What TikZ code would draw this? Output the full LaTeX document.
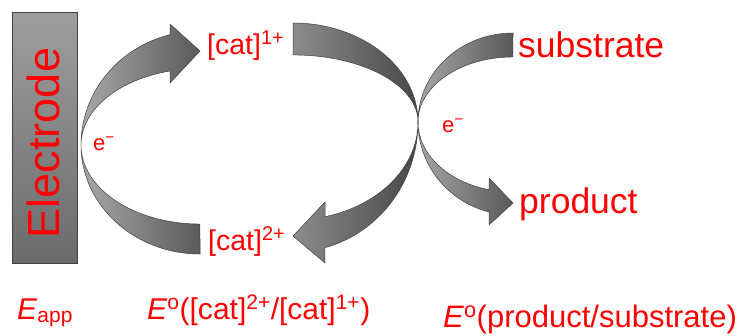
\documentclass[tikz,border=0pt]{standalone}
\usepackage{fontspec}
\setmainfont{Liberation Sans}
\definecolor{edge}{HTML}{404040}
\definecolor{lite}{HTML}{A8A8A8}
\definecolor{dark}{HTML}{5A5A5A}
\begin{document}
\begin{tikzpicture}[x=1pt,y=-1pt,
  lbl/.style={text=red, inner sep=0pt, anchor=base west},
  fat/.style={draw=edge, line width=0.5pt, line join=round}]
\useasboundingbox (0,0) rectangle (738,335);

% electrode
\draw[draw=edge, line width=0.6pt, top color=black!38, bottom color=black!58] (12,12) rectangle (77,263);
\node[text=red, inner sep=0pt, rotate=90] (electrode) at (43.5,143) {\fontsize{45}{45}\selectfont Electrode};

% left arrow: [cat]2+ -> [cat]1+
\draw[fat, left color=lite, right color=dark]
  (200,254) arc[start angle=90, end angle=180, x radius=119, y radius=109]
  arc[start angle=180, end angle=255.4, x radius=119, y radius=114]
  -- (170,24) -- (200,51) -- (170,83) -- (170,71)
  arc[start angle=255.4, end angle=180, x radius=119, y radius=76.5]
  arc[start angle=180, end angle=90, x radius=119, y radius=79] -- cycle;

% crossing arrow: [cat]1+ -> [cat]2+
\draw[fat, left color=black!45, right color=black!72]
  (293,23) arc[start angle=270, end angle=360, x radius=125, y radius=99]
  arc[start angle=0, end angle=75.2, x radius=125, y radius=130]
  -- (325,263) -- (293,236) -- (325,202) -- (325,216.7)
  arc[start angle=75.2, end angle=0, x radius=125, y radius=98]
  arc[start angle=360, end angle=270, x radius=125, y radius=67] -- cycle;

% crossing arrow: substrate -> product
\draw[fat, left color=black!35, right color=black!65]
  (513,33) arc[start angle=270, end angle=180, x radius=95, y radius=89]
  arc[start angle=180, end angle=104.6, x radius=95, y radius=93]
  -- (489,225) -- (513,203) -- (489,178) -- (489,189.7)
  arc[start angle=104.6, end angle=180, x radius=95, y radius=70]
  arc[start angle=180, end angle=270, x radius=95, y radius=65] -- cycle;

% labels
\node[lbl] (cat1) at (207,54) {\fontsize{28.5}{28.5}\selectfont [cat]\textsuperscript{1+}};
\node[lbl] (cat2) at (208,250) {\fontsize{28.5}{28.5}\selectfont [cat]\textsuperscript{2+}};
\node[lbl] (sub) at (518,57) {\fontsize{35.5}{35.5}\selectfont substrate};
\node[lbl] (prod) at (519,213) {\fontsize{35.5}{35.5}\selectfont product};
\node[lbl] (e1) at (93,150) {\fontsize{22}{22}\selectfont e\textsuperscript{−}};
\node[lbl] (e2) at (442,132) {\fontsize{22}{22}\selectfont e\textsuperscript{−}};

\node[lbl] (eapp) at (17,319) {\fontsize{30}{30}\selectfont \textit{E}\textsubscript{app}};
\node[lbl] (ecat) at (147,319) {\fontsize{30}{30}\selectfont \textit{E}\textsuperscript{o}([cat]\textsuperscript{2+}/[cat]\textsuperscript{1+})};
\node[lbl] (eprod) at (443,327) {\fontsize{31}{31}\selectfont \textit{E}\textsuperscript{o}(product/substrate)};
\end{tikzpicture}
\end{document}
